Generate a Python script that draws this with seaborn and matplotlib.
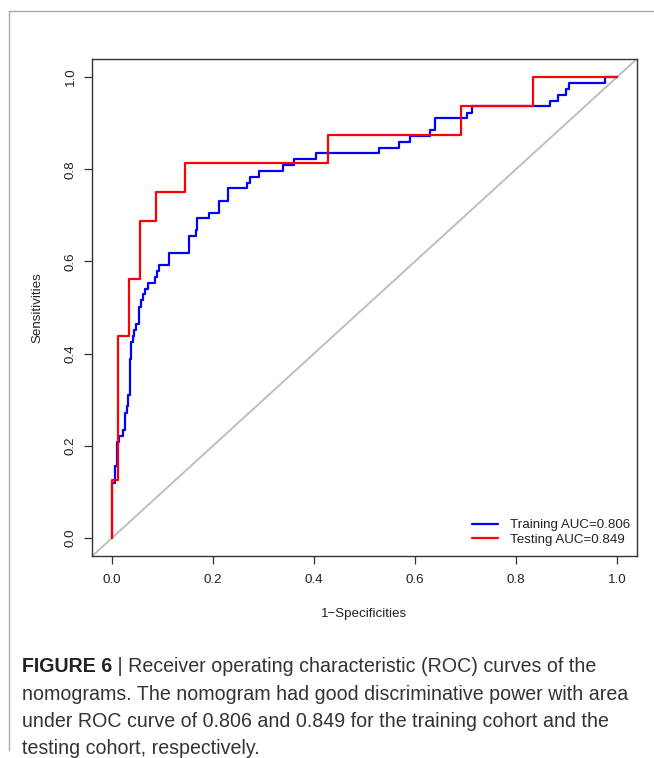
import matplotlib
matplotlib.use("Agg")
import matplotlib.pyplot as plt
import seaborn as sns
import pandas as pd

# ---- data ----
train_fpr = [0, 0, 0.0066, 0.0099, 0.0139, 0.0224, 0.0257, 0.029, 0.0317, 0.0356,
             0.038, 0.041, 0.0436, 0.047, 0.053, 0.057, 0.061, 0.066, 0.072, 0.085,
             0.090, 0.094, 0.113, 0.153, 0.166, 0.168, 0.193, 0.211, 0.230, 0.267,
             0.274, 0.292, 0.339, 0.360, 0.404, 0.528, 0.568, 0.590, 0.630, 0.639,
             0.703, 0.713, 0.867, 0.884, 0.899, 0.905, 0.977, 1.0]
train_tpr = [0, 0.119, 0.157, 0.208, 0.221, 0.234, 0.272, 0.286, 0.310, 0.388,
             0.426, 0.438, 0.451, 0.464, 0.502, 0.516, 0.529, 0.541, 0.554, 0.567,
             0.579, 0.592, 0.619, 0.656, 0.668, 0.694, 0.706, 0.732, 0.759, 0.771,
             0.784, 0.797, 0.809, 0.822, 0.835, 0.847, 0.860, 0.873, 0.886, 0.911,
             0.923, 0.937, 0.949, 0.962, 0.974, 0.987, 1.0, 1.0]
test_fpr = [0, 0, 0.0119, 0.034, 0.056, 0.088, 0.144, 0.428, 0.692, 0.834, 1.0]
test_tpr = [0, 0.125, 0.4375, 0.5625, 0.6875, 0.75, 0.8125, 0.875, 0.9375, 1.0, 1.0]
train_label = "Training AUC=0.806"
test_label = "Testing AUC=0.849"
ticks = [0.0, 0.2, 0.4, 0.6, 0.8, 1.0]
tick_labels = ["0.0", "0.2", "0.4", "0.6", "0.8", "1.0"]

sns.set_style("white")
plt.rcParams['font.family'] = ['Liberation Sans', 'DejaVu Sans']

W, H = 654, 758
fig = plt.figure(figsize=(W / 100, H / 100), dpi=100)
L, R, T, B = 91.8, 637.2, 58.6, 556.4
ax = fig.add_axes([L / W, 1 - B / H, (R - L) / W, (B - T) / H])

ax.axline((0, 0), (1, 1), color="#bebebe", lw=1.4, zorder=1)

df_tr = pd.DataFrame({"fpr": train_fpr, "tpr": train_tpr})
df_te = pd.DataFrame({"fpr": test_fpr, "tpr": test_tpr})
sns.lineplot(data=df_tr, x="fpr", y="tpr", ax=ax, estimator=None, sort=False,
             drawstyle="steps-post", color="#0000ff", lw=1.6, label=train_label, zorder=2)
sns.lineplot(data=df_te, x="fpr", y="tpr", ax=ax, estimator=None, sort=False,
             drawstyle="steps-post", color="#ff0000", lw=1.6, label=test_label, zorder=3)

fs_ax = 9.6
ax.set_xlim(-0.04, 1.04)
ax.set_ylim(-0.04, 1.04)
ax.set_xticks(ticks)
ax.set_xticklabels(tick_labels)
ax.set_yticks(ticks)
ax.set_yticklabels(tick_labels, rotation=90, va="center")
ax.tick_params(axis="both", direction="out", length=6, width=0.9, color="#333333",
               labelsize=fs_ax, labelcolor="#222222", bottom=True, left=True)
ax.tick_params(axis="x", pad=6.5)
ax.tick_params(axis="y", pad=5)
for s in ax.spines.values():
    s.set_visible(True)
    s.set_color("#333333")
    s.set_linewidth(1.0)
ax.set_xlabel("1\u2212Specificities", fontsize=fs_ax, color="#222222", labelpad=16)
ax.set_ylabel("Sensitivities", fontsize=fs_ax, color="#222222", labelpad=15)

leg = ax.legend(loc="lower right", bbox_to_anchor=(1.0, 0.007), frameon=False,
                fontsize=fs_ax, handlelength=1.9, handletextpad=0.9,
                labelspacing=0.15, borderaxespad=0.15)
for t in leg.get_texts():
    t.set_color("#222222")

# outer frame lines
fig.add_artist(plt.Line2D([9 / W, 1], [1 - 11 / H, 1 - 11 / H], color="#aaaaaa", lw=1.0))
fig.add_artist(plt.Line2D([9 / W, 9 / W], [1 - 11 / H, 1 - 750 / H], color="#aaaaaa", lw=1.0))

# caption
cap_color = "#333333"
fs = 14.1
x0 = 22 / W
lines = [
    "nomograms. The nomogram had good discriminative power with area",
    "under ROC curve of 0.806 and 0.849 for the training cohort and the",
    "testing cohort, respectively.",
]
y1 = 1 - 672 / H
bold = fig.text(x0, y1, "FIGURE 6", fontsize=fs, fontweight="bold", color="#222222",
                va="baseline", ha="left")
fig.canvas.draw()
bb = bold.get_window_extent(renderer=fig.canvas.get_renderer())
fig.text(bb.x1 / W, y1, " | Receiver operating characteristic (ROC) curves of the",
         fontsize=fs, color=cap_color, va="baseline", ha="left")
for i, ln in enumerate(lines):
    fig.text(x0, 1 - (672 + 27.5 * (i + 1)) / H, ln, fontsize=fs, color=cap_color,
             va="baseline", ha="left")

fig.savefig("out.png", dpi=100)
